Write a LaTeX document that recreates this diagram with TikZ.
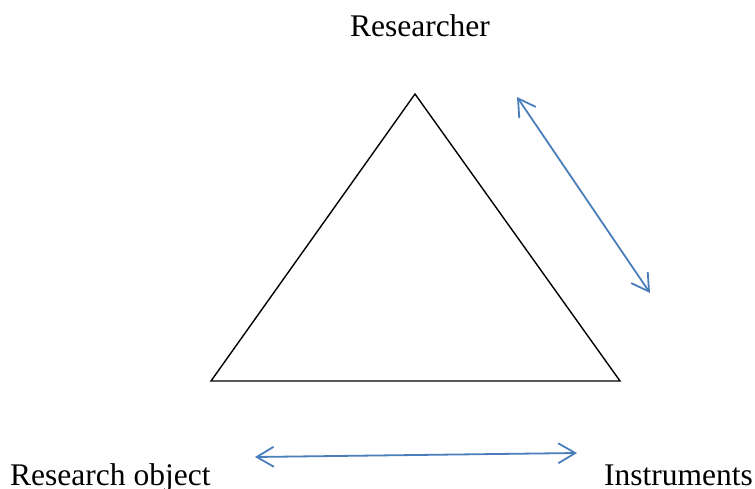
\documentclass[tikz,border=0pt]{standalone}
\usepackage{fontspec}
\setmainfont{Liberation Serif}
\usetikzlibrary{arrows.meta}
\definecolor{arrowblue}{RGB}{74,126,187}
\tikzset{
  lbl/.style={inner sep=0pt, font=\fontsize{31.5}{36}\selectfont},
  tri/.style={draw=black, line width=1.4pt, line join=miter},
  dbl/.style={draw=arrowblue, line width=1.8pt, {Straight Barb[length=17pt,width=20pt,line width=1.8pt]}-{Straight Barb[length=17pt,width=20pt,line width=1.8pt]}}
}
\begin{document}
\begin{tikzpicture}[x=1pt,y=1pt]
\useasboundingbox (0,0) rectangle (755,488);
\coordinate (top) at (415,394);
\coordinate (bl) at (211,107);
\coordinate (br) at (620,107);
\draw[tri] (top) -- (br) -- (bl) -- cycle;
\node[lbl, anchor=base] (res) at (420,451) {Researcher};
\node[lbl, anchor=base west] (obj) at (10,3) {Research object};
\node[lbl, anchor=base west] (ins) at (604,3) {Instruments};
\coordinate (a1) at (517,391);
\coordinate (a2) at (650,195);
\coordinate (b1) at (255,31);
\coordinate (b2) at (577,35);
\draw[dbl] (a1) -- (a2);
\draw[dbl] (b1) -- (b2);
\end{tikzpicture}
\end{document}
